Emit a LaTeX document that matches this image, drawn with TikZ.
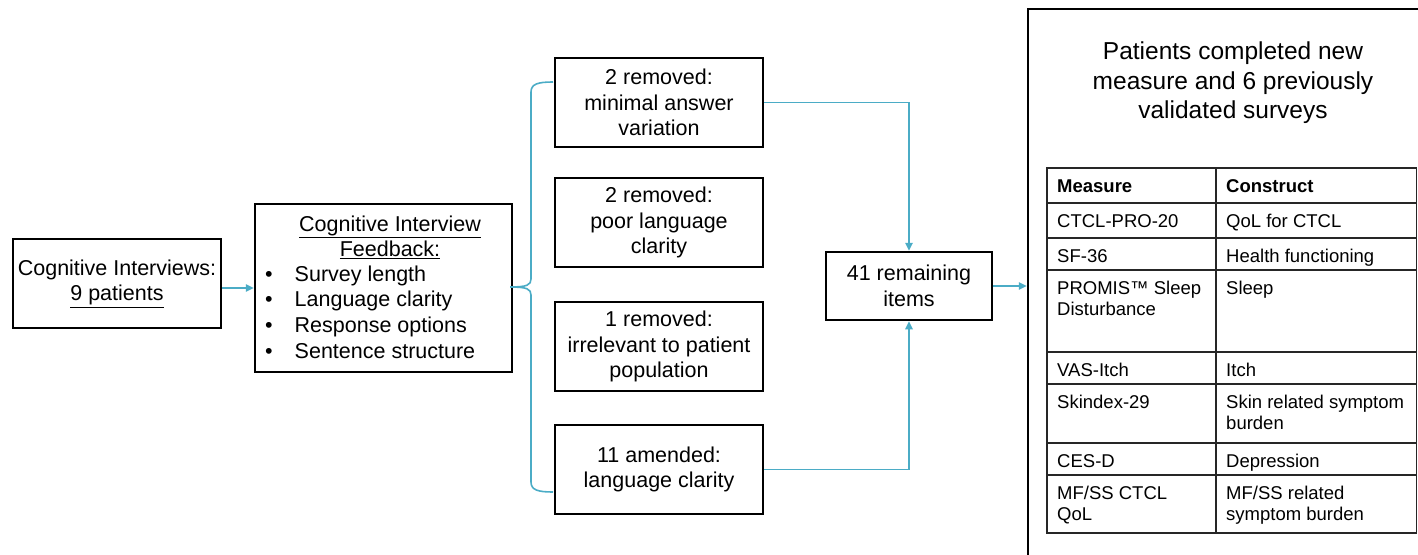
\documentclass[tikz,border=0pt]{standalone}
\usepackage{fontspec}
\setmainfont{Liberation Sans}
\usetikzlibrary{arrows.meta,calc}
\definecolor{connblue}{RGB}{75,172,198}
\begin{document}
\begin{tikzpicture}[x=1pt,y=-1pt,
  box/.style={draw=black, line width=2.5pt, align=center, inner sep=0pt,
    font=\fontsize{21.5}{25.6}\selectfont},
  conn/.style={draw=connblue, line width=1.6pt},
  arr/.style={conn, -{Triangle[length=8pt,width=7.5pt]}},
  tbl/.style={draw=black!85, line width=1.3pt},
  cell/.style={anchor=north west, inner sep=0pt, align=left,
    font=\fontsize{18.5}{21}\selectfont},
  txt/.style={inner sep=0pt, align=center, font=\fontsize{21.5}{25.6}\selectfont}
]
\useasboundingbox (0,0) rectangle (1418,554);
\clip (0,0) rectangle (1418,554);

% left boxes
\node[box, minimum width=208, minimum height=89] (A) at (117,283.5)
  {Cognitive Interviews:\\\underline{9 patients}};
\node[box, minimum width=257, minimum height=168] (B) at (383.5,288) {};
\node[txt] (Bh) at (390,237.5) {\underline{Cognitive Interview}\\\underline{Feedback:}};
\node[txt, anchor=west] (Bl) at (265,314.5)
  {\begin{tabular}{@{}l@{\hspace{22pt}}l@{}}
   \textbullet & Survey length\\
   \textbullet & Language clarity\\
   \textbullet & Response options\\
   \textbullet & Sentence structure
   \end{tabular}};

% middle boxes
\node[box, minimum width=208, minimum height=89] (b1) at (659,102.5)
  {2 removed:\\minimal answer\\variation};
\node[box, minimum width=208, minimum height=89] (b2) at (659,222.5)
  {2 removed:\\poor language\\clarity};
\node[box, minimum width=208, minimum height=89] (b3) at (659,346.5)
  {1 removed:\\irrelevant to patient\\population};
\node[box, minimum width=208, minimum height=89] (b4) at (659,469.5)
  {11 amended:\\language clarity};
\node[box, minimum width=166, minimum height=68] (n41) at (909,286)
  {41 remaining\\items};

% big right box
\node[draw=black, line width=2.5pt, minimum width=420, minimum height=580, inner sep=0pt]
  (big) at (1238,299) {};
\node[inner sep=0pt, align=center, font=\fontsize{24.5}{29.5}\selectfont]
  (title) at (1233,83) {Patients completed new\\measure and 6 previously\\validated surveys};

% table
\draw[tbl] (1047,168) rectangle (1416.5,533);
\foreach \yy in {203,238,270,352,384,443,475}
  \draw[tbl] (1047,\yy) -- (1416.5,\yy);
\draw[tbl] (1216,168) -- (1216,533);

\node[cell] (h1) at (1057,177.8) {\strut\bfseries Measure};
\node[cell] (h2) at (1226,177.8) {\strut\bfseries Construct};
\node[cell] (m1) at (1057,212.8) {\strut CTCL-PRO-20};
\node[cell] (c1) at (1226,212.8) {\strut QoL for CTCL};
\node[cell] (m2) at (1057,247.8) {\strut SF-36};
\node[cell] (c2) at (1226,247.8) {\strut Health functioning};
\node[cell] (m3) at (1057,279.8) {\strut PROMIS™ Sleep\\Disturbance};
\node[cell] (c3) at (1226,279.8) {\strut Sleep};
\node[cell] (m4) at (1057,361.8) {\strut VAS-Itch};
\node[cell] (c4) at (1226,361.8) {\strut Itch};
\node[cell] (m5) at (1057,393.8) {\strut Skindex-29};
\node[cell] (c5) at (1226,393.8) {\strut Skin related symptom\\burden};
\node[cell] (m6) at (1057,452.8) {\strut CES-D};
\node[cell] (c6) at (1226,452.8) {\strut Depression};
\node[cell] (m7) at (1057,484.8) {\strut MF/SS CTCL\\QoL};
\node[cell] (c7) at (1226,484.8) {\strut MF/SS related\\symptom burden};

% connectors
\draw[arr] (A.east |- B.west) -- (B.west);
\draw[conn] (553,82) .. controls (538,82) and (531,84) .. (531,92) -- (531,279)
  .. controls (531,285) and (527,287) .. (510,287)
  .. controls (527,287) and (531,289) .. (531,295) -- (531,482)
  .. controls (531,490) and (538,492) .. (553,492);
\draw[arr] (b1.east) -| (n41.north);
\draw[arr] (b4.east) -| (n41.south);
\draw[arr] (n41.east) -- (n41.east -| big.west);
\end{tikzpicture}
\end{document}
